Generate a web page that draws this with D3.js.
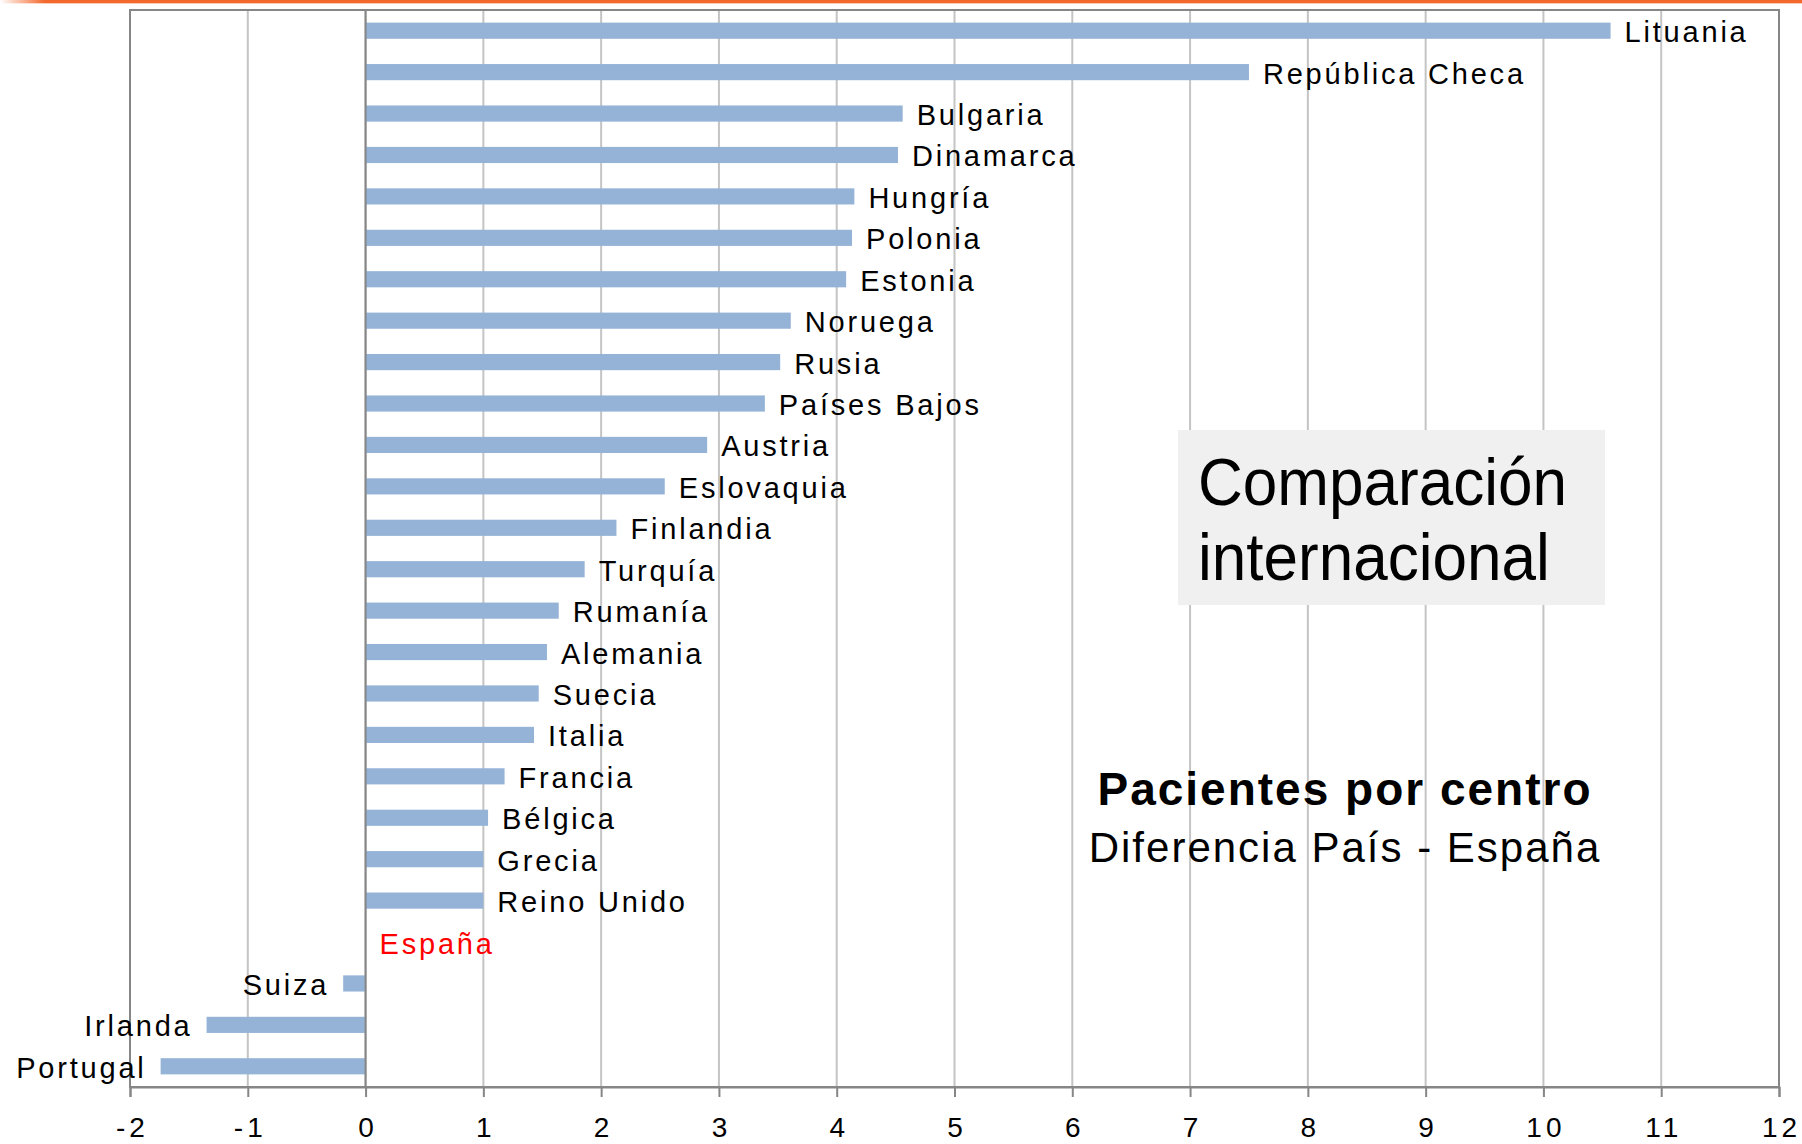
<!DOCTYPE html>
<html>
<head>
<meta charset="utf-8">
<script src="https://cdn.jsdelivr.net/npm/d3@7"></script>
<style>
  html, body { margin: 0; padding: 0; background: #fff; }
  svg { display: block; font-family: "Liberation Sans", Arial, sans-serif; }
</style>
</head>
<body>
<svg id="chart" width="1802" height="1144"></svg>
<script>
// Patients per centre: difference between each country and Spain
const countries = [
  "Lituania", "República Checa", "Bulgaria", "Dinamarca", "Hungría", "Polonia",
  "Estonia", "Noruega", "Rusia", "Países Bajos", "Austria", "Eslovaquia",
  "Finlandia", "Turquía", "Rumanía", "Alemania", "Suecia", "Italia", "Francia",
  "Bélgica", "Grecia", "Reino Unido", "España", "Suiza", "Irlanda", "Portugal"
];
const differences = [
  10.57, 7.50, 4.56, 4.52, 4.15, 4.13,
  4.08, 3.61, 3.52, 3.39, 2.90, 2.54,
  2.13, 1.86, 1.64, 1.54, 1.47, 1.43, 1.18,
  1.04, 1.00, 1.00, 0, -0.19, -1.35, -1.74
];
const tickValues = [-2, -1, 0, 1, 2, 3, 4, 5, 6, 7, 8, 9, 10, 11, 12];
const reference = "España";
const boxTitle = ["Comparación", "internacional"];
const caption = "Pacientes por centro";
const subCaption = "Diferencia País - España";

const rows = countries.map((c, i) => ({ country: c, value: differences[i] }));

const svg = d3.select("#chart");
const plot = { left: 130, right: 1779, top: 10, bottom: 1087 };

const x = d3.scaleLinear()
  .domain([tickValues[0], tickValues[tickValues.length - 1]])
  .range([plot.left, plot.right]);

const y = d3.scaleBand()
  .domain(countries)
  .range([plot.top, plot.bottom])
  .paddingInner(0.61)
  .paddingOuter(0.305);

// Orange rule along the top edge
const defs = svg.append("defs");
const grad = defs.append("linearGradient").attr("id", "topRule")
  .attr("x1", "0").attr("x2", "1").attr("y1", "0").attr("y2", "0");
grad.append("stop").attr("offset", "0").attr("stop-color", "#ffffff");
grad.append("stop").attr("offset", "0.025").attr("stop-color", "#f3682c");
grad.append("stop").attr("offset", "1").attr("stop-color", "#f3682c");
svg.append("rect").attr("x", 0).attr("y", 0).attr("width", 1802).attr("height", 3)
  .attr("fill", "url(#topRule)");
svg.append("rect").attr("x", 0).attr("y", 3).attr("width", 1802).attr("height", 1)
  .attr("fill", "url(#topRule)").attr("opacity", 0.35);

// Vertical gridlines
svg.append("g")
  .selectAll("line")
  .data(tickValues)
  .join("line")
  .attr("x1", d => x(d)).attr("x2", d => x(d))
  .attr("y1", plot.top).attr("y2", plot.bottom)
  .attr("stroke", "#c4c4c4")
  .attr("stroke-width", 2);

// Bars
svg.append("g")
  .selectAll("rect")
  .data(rows)
  .join("rect")
  .attr("x", d => x(Math.min(0, d.value)))
  .attr("y", d => y(d.country))
  .attr("width", d => Math.abs(x(d.value) - x(0)))
  .attr("height", y.bandwidth())
  .attr("fill", "#95b3d7");

// Category axis at zero
svg.append("line")
  .attr("x1", x(0)).attr("x2", x(0))
  .attr("y1", plot.top).attr("y2", plot.bottom)
  .attr("stroke", "#868686").attr("stroke-width", 2);

// Plot frame
svg.append("rect")
  .attr("x", plot.left).attr("y", plot.top)
  .attr("width", plot.right - plot.left).attr("height", plot.bottom - plot.top)
  .attr("fill", "none").attr("stroke", "#868686").attr("stroke-width", 2);

// Value axis
const tickLS = 4;
const axis = svg.append("g")
  .attr("transform", `translate(0,${plot.bottom})`)
  .call(d3.axisBottom(x).tickValues(tickValues).tickSize(10).tickPadding(20)
    .tickFormat(d => String(d)));
axis.select(".domain").attr("stroke", "#868686").attr("stroke-width", 2);
axis.selectAll(".tick line").attr("stroke", "#868686").attr("stroke-width", 2);
axis.selectAll(".tick text")
  .attr("fill", "#000")
  .attr("font-family", "\"Liberation Sans\", Arial, sans-serif")
  .attr("font-size", 28)
  .attr("letter-spacing", tickLS)
  .attr("dx", tickLS / 2);

// Country labels beside each bar
const labelLS = 2.8;
svg.append("g")
  .selectAll("text")
  .data(rows)
  .join("text")
  .attr("x", d => d.value < 0 ? x(d.value) - 14 : x(d.value) + 14)
  .attr("y", d => y(d.country) + y.bandwidth() / 2 + 11.5)
  .attr("text-anchor", d => d.value < 0 ? "end" : "start")
  .attr("font-size", 29)
  .attr("letter-spacing", labelLS)
  .attr("fill", d => d.country === reference ? "#ff0000" : "#000")
  .text(d => d.country);

// Title box
svg.append("rect")
  .attr("x", 1178).attr("y", 430).attr("width", 427).attr("height", 175)
  .attr("fill", "#f0f0f0");
const tb = svg.append("g").attr("transform", "translate(1198,0) scale(0.94,1)");
tb.selectAll("text")
  .data(boxTitle)
  .join("text")
  .attr("x", 0)
  .attr("y", (d, i) => 505 + i * 75)
  .attr("font-size", 66)
  .attr("fill", "#000")
  .text(d => d);

// Caption
svg.append("text")
  .attr("x", 1344).attr("y", 805)
  .attr("text-anchor", "middle")
  .attr("font-size", 46).attr("font-weight", "bold")
  .attr("letter-spacing", 2).attr("dx", 1)
  .attr("fill", "#000")
  .text(caption);
svg.append("text")
  .attr("x", 1344).attr("y", 862)
  .attr("text-anchor", "middle")
  .attr("font-size", 42)
  .attr("letter-spacing", 2).attr("dx", 1)
  .attr("fill", "#000")
  .text(subCaption);
</script>
</body>
</html>
